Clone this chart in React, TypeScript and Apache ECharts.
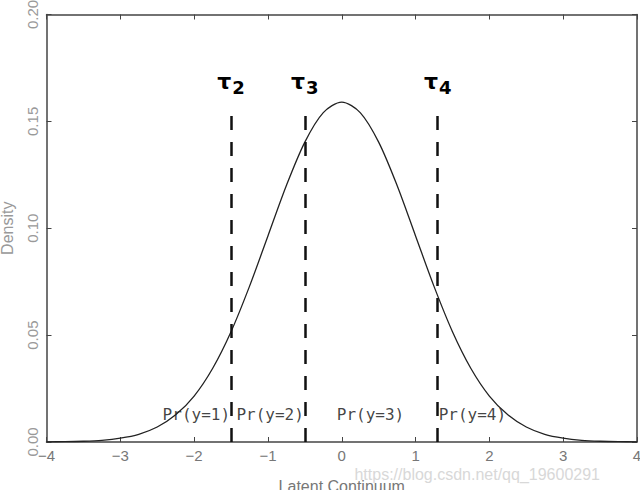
import React, { useEffect, useRef } from "react";
import * as echarts from "echarts";

const xValues = [-4, -3.75, -3.5, -3.25, -3, -2.75, -2.5, -2.25, -2, -1.75, -1.5, -1.25, -1, -0.75, -0.5, -0.25, 0, 0.25, 0.5, 0.75, 1, 1.25, 1.5, 1.75, 2, 2.25, 2.5, 2.75, 3, 3.25, 3.5, 3.75, 4];
const densityValues = [0.0001, 0.00014, 0.00035, 0.0008, 0.0018, 0.0036, 0.007, 0.0127, 0.0215, 0.0344, 0.0516, 0.0728, 0.0964, 0.12, 0.1403, 0.1541, 0.159, 0.1541, 0.1403, 0.12, 0.0964, 0.0728, 0.0516, 0.0344, 0.0215, 0.0127, 0.007, 0.0036, 0.0018, 0.0008, 0.00035, 0.00014, 0.0001];

const thresholds = [-1.5, -0.5, 1.3];
const thresholdNames = ["2", "3", "4"];
const thresholdTop = 0.156;

const probLabels = ["Pr(y=1)", "Pr(y=2)", "Pr(y=3)", "Pr(y=4)"];
const probX = [-1.97, -0.97, 0.39, 1.77];
const probY = 0.013;

const xTicks = [-4, -3, -2, -1, 0, 1, 2, 3, 4];
const yTicks = [0, 0.05, 0.1, 0.15, 0.2];

export default function App() {
  const ref = useRef<HTMLDivElement>(null);
  useEffect(() => {
    if (!ref.current) return;
    const chart = echarts.init(ref.current, null, { renderer: "svg" });
    const axisColor = "#444";
    const labelColor = "#777";
    const tickStyle = { show: true, inside: true, length: 5, lineStyle: { color: axisColor, width: 1 } };
    const lineStyle = { show: true, onZero: false, lineStyle: { color: axisColor, width: 1.5 } };
    chart.setOption({
      animation: false,
      backgroundColor: "#fff",
      grid: { left: 46.5, right: 3, top: 14.5, bottom: 48, containLabel: false, outerBoundsMode: "none" },
      xAxis: [
        {
          type: "value",
          min: xTicks[0],
          max: xTicks[xTicks.length - 1],
          interval: 1,
          axisLine: lineStyle,
          axisTick: tickStyle,
          splitLine: { show: false },
          axisLabel: {
            color: labelColor,
            fontFamily: "Liberation Sans",
            fontSize: 15,
            margin: 6,
            formatter: (v: number) => (v < 0 ? "\u2212" + Math.abs(v) : String(v)),
          },
          name: "Latent Continuum",
          nameLocation: "middle",
          nameGap: 36,
          nameTextStyle: { color: labelColor, fontFamily: "Liberation Sans", fontSize: 16 },
        },
        {
          type: "value",
          position: "top",
          min: xTicks[0],
          max: xTicks[xTicks.length - 1],
          interval: 1,
          axisLine: lineStyle,
          axisTick: tickStyle,
          axisLabel: { show: false },
          splitLine: { show: false },
        },
      ],
      yAxis: [
        {
          type: "value",
          min: yTicks[0],
          max: yTicks[yTicks.length - 1],
          interval: 0.05,
          axisLine: lineStyle,
          axisTick: tickStyle,
          splitLine: { show: false },
          axisLabel: {
            color: "#999",
            fontFamily: "Liberation Sans",
            fontSize: 15,
            rotate: 90,
            margin: 7,
            formatter: (v: number) => v.toFixed(2),
          },
          name: "Density",
          nameLocation: "middle",
          nameGap: 31,
          nameTextStyle: { color: "#999", fontFamily: "Liberation Sans", fontSize: 16 },
        },
        {
          type: "value",
          position: "right",
          min: yTicks[0],
          max: yTicks[yTicks.length - 1],
          interval: 0.05,
          axisLine: lineStyle,
          axisTick: tickStyle,
          axisLabel: { show: false },
          splitLine: { show: false },
        },
      ],
      series: [
        {
          type: "line",
          data: xValues.map((x, i) => [x, densityValues[i]]),
          smooth: 0.3,
          symbol: "none",
          lineStyle: { color: "#222", width: 1.3 },
          markLine: {
            silent: true,
            symbol: ["none", "none"],
            lineStyle: { color: "#111", width: 2.5, type: [14, 12] },
            label: {
              show: true,
              position: "end",
              distance: 12,
              formatter: (p: any) => "{t|\u03c4}{s|" + p.data.name + "}",
              rich: {
                t: { fontSize: 22, fontWeight: "bold", color: "#000", fontFamily: "DejaVu Sans", verticalAlign: "top", lineHeight: 26 },
                s: { fontSize: 18, fontWeight: "bold", color: "#000", fontFamily: "DejaVu Sans", verticalAlign: "bottom", lineHeight: 26, padding: [8, 0, 0, 1] },
              },
            },
            data: thresholds.map((t, i) => [
              { coord: [t, 0], name: thresholdNames[i] },
              { coord: [t, thresholdTop] },
            ]),
          },
        },
        {
          type: "scatter",
          data: probX.map((x, i) => [x, probY, probLabels[i]]),
          symbolSize: 0,
          silent: true,
          label: {
            show: true,
            position: "inside",
            formatter: (p: any) => p.data[2],
            color: "#111",
            fontFamily: "DejaVu Sans Mono",
            fontSize: 16,
          },
        },
      ],
      graphic: [
        {
          type: "text",
          right: 40,
          bottom: 8,
          style: { text: "https://blog.csdn.net/qq_19600291", fill: "#d8d8d8", fontFamily: "Liberation Sans", fontSize: 16 },
          silent: true,
        },
      ],
    });
    return () => chart.dispose();
  }, []);
  return <div ref={ref} style={{ width: 640, height: 490, position: "fixed", left: 0, top: 0 }} />;
}
